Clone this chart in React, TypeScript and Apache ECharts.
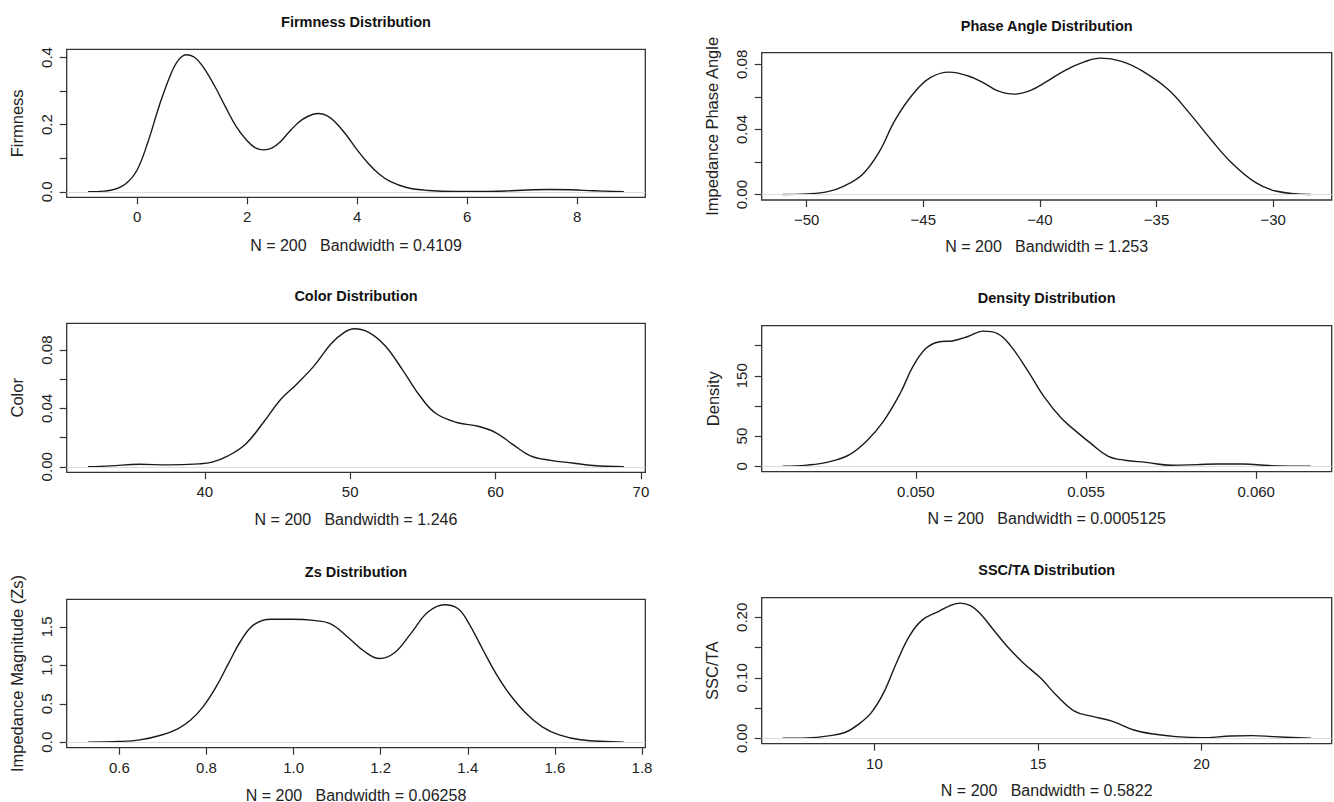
import React, { useEffect, useRef } from "react";
import * as echarts from "echarts";

// ---------- data ----------
const firmnessX = [-0.89, -0.6, -0.4, -0.2, 0, 0.2, 0.4, 0.6, 0.75, 0.9, 1.05, 1.2, 1.4, 1.6, 1.8, 2.0, 2.15, 2.3, 2.45, 2.6, 2.8, 3.0, 3.2, 3.3, 3.45, 3.6, 3.8, 4.0, 4.2, 4.4, 4.6, 4.9, 5.3, 5.8, 6.3, 6.8, 7.2, 7.5, 7.9, 8.3, 8.85];
const firmnessY = [0, 0.002, 0.008, 0.025, 0.065, 0.15, 0.255, 0.345, 0.392, 0.408, 0.4, 0.372, 0.318, 0.255, 0.195, 0.152, 0.131, 0.125, 0.13, 0.148, 0.185, 0.215, 0.231, 0.233, 0.227, 0.208, 0.17, 0.125, 0.085, 0.053, 0.031, 0.013, 0.004, 0.001, 0.001, 0.003, 0.006, 0.007, 0.006, 0.003, 0];

const phaseX = [-51.03, -50, -49.1, -48.4, -47.6, -46.9, -46.2, -45.4, -44.7, -43.9, -43.1, -42.4, -41.8, -41.1, -40.4, -39.7, -38.9, -38.1, -37.4, -36.5, -35.6, -34.5, -33.6, -32.65, -31.75, -30.8, -29.9, -28.39];
const phaseY = [0, 0.0004, 0.0018, 0.0052, 0.0125, 0.026, 0.046, 0.0625, 0.0718, 0.0752, 0.073, 0.0685, 0.0637, 0.0617, 0.064, 0.0695, 0.0765, 0.0815, 0.0838, 0.0818, 0.0758, 0.0645, 0.0502, 0.0335, 0.019, 0.0078, 0.0022, 0];

const colorX = [31.97, 33.5, 35.5, 37.5, 39.6, 40.5, 41.6, 42.8, 44.0, 45.2, 46.3, 47.5, 48.7, 49.6, 50.3, 51.3, 52.4, 53.6, 54.8, 55.9, 57.4, 58.8, 60.0, 61.2, 62.4, 63.8, 65.3, 66.7, 68.83];
const colorY = [0, 0.0006, 0.0017, 0.0013, 0.002, 0.0032, 0.0075, 0.0155, 0.03, 0.046, 0.0565, 0.069, 0.0845, 0.0922, 0.0946, 0.092, 0.083, 0.0665, 0.0485, 0.0365, 0.0302, 0.0278, 0.0235, 0.0152, 0.0075, 0.0044, 0.0026, 0.0009, 0];

const densityX = [0.04609, 0.0468, 0.04742, 0.04804, 0.04854, 0.04904, 0.04954, 0.04991, 0.05029, 0.05066, 0.0511, 0.05153, 0.05197, 0.0524, 0.05278, 0.05328, 0.05377, 0.05427, 0.05477, 0.05514, 0.05564, 0.05614, 0.05676, 0.05751, 0.05826, 0.05888, 0.05963, 0.06037, 0.0616];
const densityY = [0, 2, 7, 19, 41, 74, 121, 165, 195, 206, 208, 215, 224, 220, 200, 159, 115, 80, 55, 38, 17, 10, 6.5, 1.8, 2.8, 3.8, 3.8, 1.2, 0];

const zsX = [0.528, 0.6, 0.647, 0.695, 0.734, 0.763, 0.792, 0.822, 0.851, 0.88, 0.909, 0.948, 0.997, 1.046, 1.085, 1.124, 1.163, 1.197, 1.231, 1.27, 1.308, 1.347, 1.377, 1.4, 1.435, 1.464, 1.494, 1.533, 1.571, 1.61, 1.659, 1.758];
const zsY = [0, 0.009, 0.03, 0.09, 0.175, 0.285, 0.46, 0.72, 1.03, 1.33, 1.53, 1.6, 1.6, 1.585, 1.54, 1.37, 1.18, 1.09, 1.16, 1.42, 1.69, 1.788, 1.74, 1.57, 1.2, 0.9, 0.64, 0.38, 0.2, 0.095, 0.032, 0];

const sscX = [7.2, 7.95, 8.6, 9.12, 9.51, 9.9, 10.28, 10.67, 11.06, 11.45, 11.97, 12.3, 12.62, 12.95, 13.25, 13.6, 14.04, 14.56, 15.08, 15.6, 16.11, 16.63, 17.28, 17.93, 18.58, 19.22, 20.0, 20.9, 21.55, 22.2, 23.34];
const sscY = [0, 0.0005, 0.004, 0.01, 0.023, 0.042, 0.075, 0.124, 0.168, 0.195, 0.21, 0.219, 0.2235, 0.219, 0.205, 0.182, 0.153, 0.124, 0.0995, 0.069, 0.045, 0.0366, 0.028, 0.0137, 0.0066, 0.0027, 0.001, 0.0038, 0.0044, 0.0027, 0];

// tick positions and labels
const firmnessXTicks = [0, 2, 4, 6, 8];
const firmnessYTicks = [0, 0.1, 0.2, 0.3, 0.4];
const firmnessYLabels = [0, 0.2, 0.4];
const phaseXTicks = [-50, -45, -40, -35, -30];
const phaseYTicks = [0, 0.02, 0.04, 0.06, 0.08];
const phaseYLabels = [0, 0.04, 0.08];
const colorXTicks = [40, 50, 60, 70];
const colorYTicks = [0, 0.02, 0.04, 0.06, 0.08];
const colorYLabels = [0, 0.04, 0.08];
const densityXTicks = [0.05, 0.055, 0.06];
const densityYTicks = [0, 50, 100, 150, 200];
const densityYLabels = [0, 50, 150];
const zsXTicks = [0.6, 0.8, 1.0, 1.2, 1.4, 1.6, 1.8];
const zsYTicks = [0, 0.5, 1.0, 1.5];
const zsYLabels = [0, 0.5, 1.0, 1.5];
const sscXTicks = [10, 15, 20];
const sscYTicks = [0, 0.05, 0.1, 0.15, 0.2];
const sscYLabels = [0, 0.1, 0.2];

const titles = ["Firmness Distribution", "Phase Angle Distribution", "Color Distribution", "Density Distribution", "Zs Distribution", "SSC/TA Distribution"];
const yNames = ["Firmness", "Impedance Phase Angle", "Color", "Density", "Impedance Magnitude (Zs)", "SSC/TA"];
const bandwidths = ["0.4109", "1.253", "1.246", "0.0005125", "0.06258", "0.5822"];
const sampleSize = 200;

// ---------- layout ----------
const FONT = '"Liberation Sans", Arial, Helvetica, sans-serif';
const INK = "#222";

type Panel = {
  x: number[]; y: number[];
  xMin: number; xMax: number;
  xTicks: number[]; yTicks: number[]; yLabels: number[];
  xFmt: (v: number) => string; yFmt: (v: number) => string;
  box: [number, number, number, number]; // left, top, right, bottom
  titleY: number; nY: number; yNameX: number;
};

const minus = (s: string) => s.replace("-", "\u2212");

const panels: Panel[] = [
  { x: firmnessX, y: firmnessY, xMin: -1.28, xMax: 9.24, xTicks: firmnessXTicks, yTicks: firmnessYTicks, yLabels: firmnessYLabels,
    xFmt: (v) => String(v), yFmt: (v) => v.toFixed(1), box: [66.7, 49.3, 645.3, 197.3], titleY: 21.7, nY: 245, yNameX: 17 },
  { x: phaseX, y: phaseY, xMin: -51.93, xMax: -27.49, xTicks: phaseXTicks, yTicks: phaseYTicks, yLabels: phaseYLabels,
    xFmt: (v) => minus(String(v)), yFmt: (v) => v.toFixed(2), box: [761.7, 52.7, 1331.7, 200], titleY: 26, nY: 246.7, yNameX: 712 },
  { x: colorX, y: colorY, xMin: 30.5, xMax: 70.3, xTicks: colorXTicks, yTicks: colorYTicks, yLabels: colorYLabels,
    xFmt: (v) => String(v), yFmt: (v) => v.toFixed(2), box: [66.7, 323.3, 645.3, 472.3], titleY: 296, nY: 519.3, yNameX: 17 },
  { x: densityX, y: densityY, xMin: 0.045469, xMax: 0.062219, xTicks: densityXTicks, yTicks: densityYTicks, yLabels: densityYLabels,
    xFmt: (v) => v.toFixed(3), yFmt: (v) => String(Math.round(v)), box: [761.7, 325.7, 1331.7, 471.7], titleY: 298.3, nY: 518.3, yNameX: 712.8 },
  { x: zsX, y: zsY, xMin: 0.479, xMax: 1.8076, xTicks: zsXTicks, yTicks: zsYTicks, yLabels: zsYLabels,
    xFmt: (v) => v.toFixed(1), yFmt: (v) => v.toFixed(1), box: [66.7, 599.3, 645.3, 747.7], titleY: 571.7, nY: 795, yNameX: 17 },
  { x: sscX, y: sscY, xMin: 6.556, xMax: 23.976, xTicks: sscXTicks, yTicks: sscYTicks, yLabels: sscYLabels,
    xFmt: (v) => String(v), yFmt: (v) => v.toFixed(2), box: [761.7, 597.7, 1331.7, 743.7], titleY: 570, nY: 790.7, yNameX: 712.3 },
];

function buildOption() {
  const grid: any[] = [];
  const xAxis: any[] = [];
  const yAxis: any[] = [];
  const series: any[] = [];
  const graphic: any[] = [];

  panels.forEach((p, i) => {
    const [l, t, r, b] = p.box;
    const yMaxData = Math.max(...p.y);
    const pad = yMaxData * 0.04;
    grid.push({
      left: l, top: t, width: r - l, height: b - t,
      show: true, borderColor: "#333", borderWidth: 1.3, backgroundColor: "transparent",
      containLabel: false,
    });
    xAxis.push({
      type: "value", gridIndex: i, min: p.xMin, max: p.xMax, position: "bottom",
      axisLine: { show: false, onZero: false },
      splitLine: { show: false },
      axisTick: { show: true, inside: false, length: 7, customValues: p.xTicks, lineStyle: { color: "#333", width: 1.2 } },
      axisLabel: {
        show: true, customValues: p.xTicks, margin: 12, fontSize: 15, fontFamily: FONT, color: INK,
        formatter: (v: number) => p.xFmt(v), showMinLabel: true, showMaxLabel: true,
      },
    });
    yAxis.push({
      type: "value", gridIndex: i, min: -pad, max: yMaxData + pad, position: "left",
      axisLine: { show: false, onZero: false },
      splitLine: { show: false },
      axisTick: { show: true, inside: false, length: 7, customValues: p.yTicks, lineStyle: { color: "#333", width: 1.2 } },
      axisLabel: {
        show: true, customValues: p.yLabels, rotate: 90, margin: 13, fontSize: 15, lineHeight: 15, fontFamily: FONT, color: INK,
        formatter: (v: number) => p.yFmt(v), showMinLabel: true, showMaxLabel: true,
      },
    });
    series.push({
      type: "line", xAxisIndex: i, yAxisIndex: i,
      data: p.x.map((xv, k) => [xv, p.y[k]]),
      showSymbol: false, symbol: "none", smooth: 0.4,
      lineStyle: { color: "#1a1a1a", width: 1.4 },
      silent: true,
      markLine: {
        silent: true, symbol: "none", label: { show: false },
        lineStyle: { color: "#dcdcdc", width: 1, type: "solid" },
        data: [{ yAxis: 0 }],
      },
    });
    const cx = (l + r) / 2;
    graphic.push({
      type: "text", x: cx, y: p.titleY,
      style: { text: titles[i], fontFamily: FONT, fontWeight: "bold", fontSize: 14.5, fill: "#111", textAlign: "center", textVerticalAlign: "middle" },
    });
    graphic.push({
      type: "text", x: cx, y: p.nY,
      style: { text: `N = ${sampleSize}   Bandwidth = ${bandwidths[i]}`, fontFamily: FONT, fontSize: 16, fill: INK, textAlign: "center", textVerticalAlign: "middle" },
    });
    graphic.push({
      type: "text", x: p.yNameX, y: (t + b) / 2, rotation: Math.PI / 2,
      style: { text: yNames[i], fontFamily: FONT, fontSize: 16.5, fill: INK, textAlign: "center", textVerticalAlign: "middle" },
    });
  });

  return {
    animation: false,
    backgroundColor: "#ffffff",
    grid, xAxis, yAxis, series, graphic,
  };
}

export default function App() {
  const ref = useRef<HTMLDivElement>(null);
  useEffect(() => {
    if (!ref.current) return;
    const chart = echarts.init(ref.current, undefined, { renderer: "svg" });
    chart.setOption(buildOption() as any);
    return () => chart.dispose();
  }, []);
  return (
    <div
      ref={ref}
      style={{ position: "fixed", left: 0, top: 0, width: 1334, height: 802, background: "#fff" }}
    />
  );
}
